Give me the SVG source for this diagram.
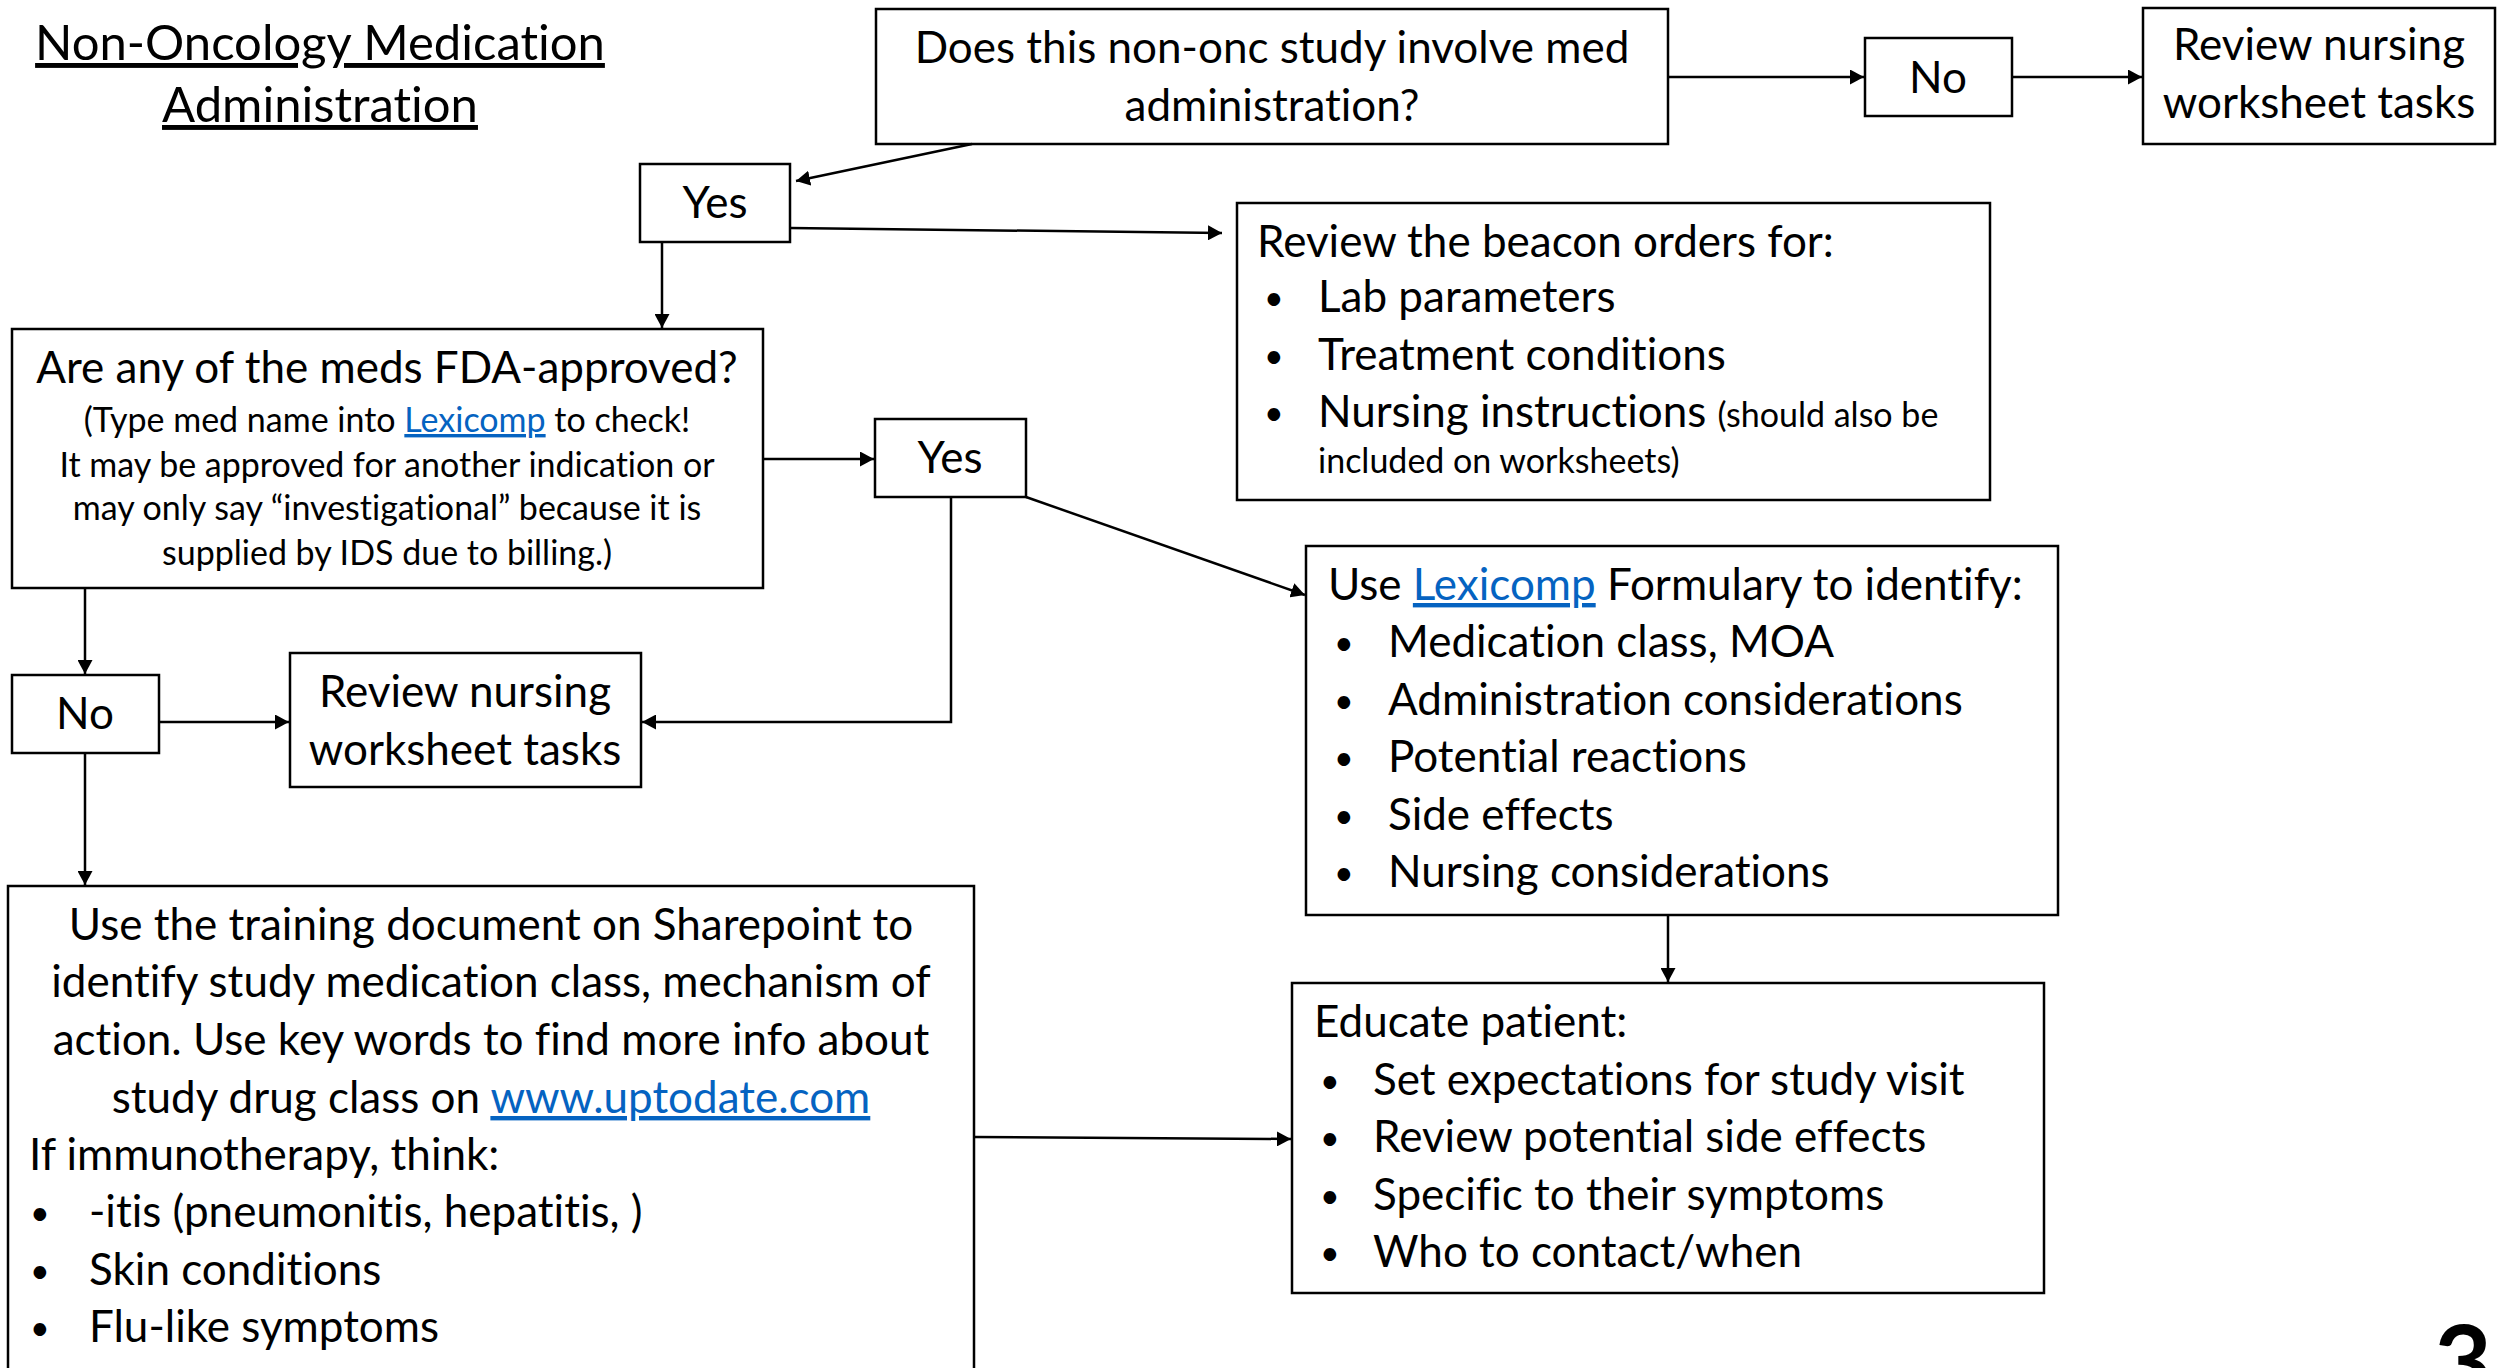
<svg xmlns="http://www.w3.org/2000/svg" width="2498" height="1368" viewBox="0 0 2498 1368">
<defs>
<marker id="arr" viewBox="0 0 14 15" refX="14" refY="7.5" markerWidth="14" markerHeight="15" markerUnits="userSpaceOnUse" orient="auto">
<path d="M0,0 L14,7.5 L0,15 z" fill="#000"/>
</marker>
<style>
.box{fill:#fff;stroke:#000;stroke-width:2.5}
.t{font-family:Lato,"Open Sans","Liberation Sans",sans-serif;font-size:44px;fill:#000;font-variant-ligatures:none;font-feature-settings:"liga" 0,"clig" 0}
.c{text-anchor:middle}
.s{font-size:34px}
.b{font-size:34px}
.ttl{font-size:49px;text-decoration:underline}
.lnk{fill:#0563C1;text-decoration:underline}
.conn line,.conn path{stroke:#000;stroke-width:2.5;fill:none}
</style>
</defs>
<rect width="2498" height="1368" fill="#fff"/>

<g id="title">
<text class="t c ttl" x="320" y="60">Non-Oncology Medication</text>
<text class="t c ttl" x="320" y="122">Administration</text>
</g>

<g id="q1">
<rect class="box" x="876" y="9" width="792" height="135"/>
<text class="t c" x="1272" y="63">Does this non-onc study involve med</text>
<text class="t c" x="1272" y="121">administration?</text>
</g>

<g id="no1">
<rect class="box" x="1865" y="38" width="147" height="78"/>
<text class="t c" x="1938" y="93">No</text>
</g>

<g id="review1">
<rect class="box" x="2143" y="8" width="352" height="136"/>
<text class="t c" x="2319" y="60">Review nursing</text>
<text class="t c" x="2319" y="118">worksheet tasks</text>
</g>

<g id="yes1">
<rect class="box" x="640" y="164" width="150" height="78"/>
<text class="t c" x="715" y="218">Yes</text>
</g>

<g id="beacon">
<rect class="box" x="1237" y="203" width="753" height="297"/>
<text class="t" x="1257" y="257">Review the beacon orders for:</text>
<text class="t b" x="1264" y="310">•</text><text class="t" x="1318" y="312">Lab parameters</text>
<text class="t b" x="1264" y="368">•</text><text class="t" x="1318" y="370">Treatment conditions</text>
<text class="t b" x="1264" y="425">•</text><text class="t" x="1318" y="427">Nursing instructions <tspan class="s">(should also be</tspan></text>
<text class="t s" x="1318" y="473">included on worksheets)</text>
</g>

<g id="fda">
<rect class="box" x="12" y="329" width="751" height="259"/>
<text class="t c" x="387" y="383">Are any of the meds FDA-approved?</text>
<text class="t c s" x="387" y="432">(Type med name into <tspan class="lnk">Lexicomp</tspan> to check!</text>
<text class="t c s" x="387" y="477">It may be approved for another indication or</text>
<text class="t c s" x="387" y="520">may only say “investigational” because it is</text>
<text class="t c s" x="387" y="565">supplied by IDS due to billing.)</text>
</g>

<g id="yes2">
<rect class="box" x="875" y="419" width="151" height="78"/>
<text class="t c" x="950" y="473">Yes</text>
</g>

<g id="lexicomp">
<rect class="box" x="1306" y="546" width="752" height="369"/>
<text class="t" x="1328" y="600">Use <tspan class="lnk">Lexicomp</tspan> Formulary to identify:</text>
<text class="t b" x="1334" y="655">•</text><text class="t" x="1388" y="657">Medication class, MOA</text>
<text class="t b" x="1334" y="713">•</text><text class="t" x="1388" y="715">Administration considerations</text>
<text class="t b" x="1334" y="770">•</text><text class="t" x="1388" y="772">Potential reactions</text>
<text class="t b" x="1334" y="828">•</text><text class="t" x="1388" y="830">Side effects</text>
<text class="t b" x="1334" y="885">•</text><text class="t" x="1388" y="887">Nursing considerations</text>
</g>

<g id="no2">
<rect class="box" x="12" y="675" width="147" height="78"/>
<text class="t c" x="85" y="729">No</text>
</g>

<g id="review2">
<rect class="box" x="290" y="653" width="351" height="134"/>
<text class="t c" x="465" y="707">Review nursing</text>
<text class="t c" x="465" y="765">worksheet tasks</text>
</g>

<g id="training">
<rect class="box" x="8" y="886" width="966" height="500"/>
<text class="t c" x="491" y="940">Use the training document on Sharepoint to</text>
<text class="t c" x="491" y="997">identify study medication class, mechanism of</text>
<text class="t c" x="491" y="1055">action. Use key words to find more info about</text>
<text class="t c" x="491" y="1113">study drug class on <tspan class="lnk">www.uptodate.com</tspan></text>
<text class="t" x="29" y="1170">If immunotherapy, think:</text>
<text class="t b" x="30" y="1225">•</text><text class="t" x="89" y="1227">-itis (pneumonitis, hepatitis, )</text>
<text class="t b" x="30" y="1283">•</text><text class="t" x="89" y="1285">Skin conditions</text>
<text class="t b" x="30" y="1340">•</text><text class="t" x="89" y="1342">Flu-like symptoms</text>
</g>

<g id="educate">
<rect class="box" x="1292" y="983" width="752" height="310"/>
<text class="t" x="1314" y="1037">Educate patient:</text>
<text class="t b" x="1320" y="1093">•</text><text class="t" x="1373" y="1095">Set expectations for study visit</text>
<text class="t b" x="1320" y="1150">•</text><text class="t" x="1373" y="1152">Review potential side effects</text>
<text class="t b" x="1320" y="1208">•</text><text class="t" x="1373" y="1210">Specific to their symptoms</text>
<text class="t b" x="1320" y="1265">•</text><text class="t" x="1373" y="1267">Who to contact/when</text>
</g>

<g id="page-number">
<text class="t" x="2434" y="1397" style="font-size:100px;font-weight:bold">3</text>
</g>

<g id="connectors" class="conn">
<line x1="1668" y1="77" x2="1864" y2="77" marker-end="url(#arr)"/>
<line x1="2012" y1="77" x2="2142" y2="77" marker-end="url(#arr)"/>
<line x1="972" y1="144" x2="796" y2="181" marker-end="url(#arr)"/>
<line x1="790" y1="228" x2="1222" y2="233" marker-end="url(#arr)"/>
<line x1="662" y1="242" x2="662" y2="328" marker-end="url(#arr)"/>
<line x1="763" y1="459" x2="874" y2="459" marker-end="url(#arr)"/>
<line x1="85" y1="588" x2="85" y2="674" marker-end="url(#arr)"/>
<line x1="159" y1="722" x2="289" y2="722" marker-end="url(#arr)"/>
<path d="M951,497 V722 H642" marker-end="url(#arr)"/>
<line x1="1026" y1="497" x2="1305" y2="595" marker-end="url(#arr)"/>
<line x1="85" y1="753" x2="85" y2="885" marker-end="url(#arr)"/>
<line x1="974" y1="1137" x2="1291" y2="1139" marker-end="url(#arr)"/>
<line x1="1668" y1="915" x2="1668" y2="982" marker-end="url(#arr)"/>
</g>
</svg>
